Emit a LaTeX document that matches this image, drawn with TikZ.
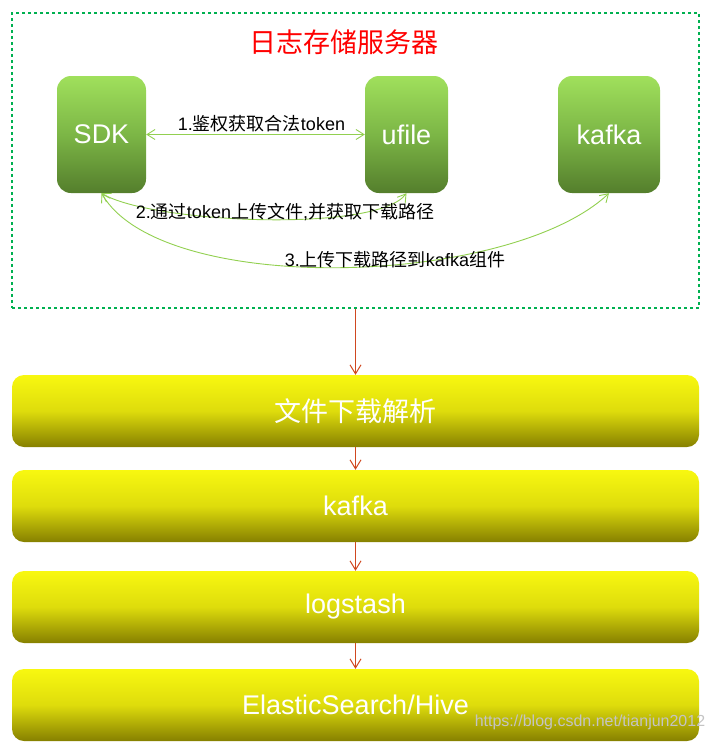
\documentclass[tikz,border=0pt]{standalone}
\usepackage{fontspec}
\setmainfont{Liberation Sans}
\newfontfamily\cjk{Noto Sans CJK SC}
\usetikzlibrary{arrows.meta}
\definecolor{dotgreen}{RGB}{0,176,80}
\definecolor{arrowred}{RGB}{208,72,32}
\definecolor{linkgreen}{RGB}{146,208,80}
\definecolor{boxtop}{RGB}{160,224,92}
\definecolor{boxmid}{RGB}{124,182,70}
\definecolor{boxbot}{RGB}{84,126,44}
\definecolor{bartop}{RGB}{248,248,16}
\definecolor{barmid}{RGB}{222,220,12}
\definecolor{barbot}{RGB}{134,128,0}
\definecolor{marktext}{RGB}{196,196,196}
\newcommand{\bigfont}{\fontsize{27}{27}\selectfont}
\newcommand{\lblfont}{\fontsize{18}{18}\selectfont}
\newcommand{\markfont}{\fontsize{16}{16}\selectfont}

\begin{document}
\begin{tikzpicture}[x=1pt,y=-1pt]
\tikzstyle{srvbox}=[draw=dotgreen,line width=2.7pt,dash pattern=on 2.7pt off 3.3pt,minimum width=687pt,minimum height=295pt,inner sep=0pt]
\tikzstyle{comp}=[rounded corners=14pt,top color=boxtop,bottom color=boxbot,middle color=boxmid,minimum height=117pt,inner sep=0pt,text=white,font=\bigfont]
\tikzstyle{stage}=[rounded corners=12pt,top color=bartop,bottom color=barbot,middle color=barmid,minimum width=687pt,minimum height=72pt,inner sep=0pt,text=white,font=\bigfont]
\tikzstyle{link}=[draw=linkgreen,line width=0.9pt,arrows={Straight Barb[length=8pt,width=10pt]-Straight Barb[length=8pt,width=10pt]}]
\tikzstyle{flow}=[draw=arrowred,line width=1pt,arrows={-Straight Barb[length=9pt,width=11pt]}]
\tikzstyle{lbl}=[font=\lblfont,inner sep=0pt]
\useasboundingbox (0,0) rectangle (713,744);

\node[srvbox] (server) at (355.5,160.5) {};
\node[text=red,font=\bigfont\cjk] (title) at (343.5,42.5) {日志存储服务器};

\node[comp,minimum width=89pt] (sdk) at (101.5,134.5) {SDK};
\node[comp,minimum width=83pt] (ufile) at (406.5,134.5) {ufile};
\node[comp,minimum width=102pt] (kafka) at (609,134.5) {kafka};

\draw[link] (sdk.east) -- node[lbl,above=2pt,xshift=6pt] {1.{\cjk 鉴权获取合法}token} (ufile.west);
\draw[link] (sdk.south) .. controls +(50,30) and +(-30,40) .. (ufile.south);
\draw[link] (sdk.south) .. controls +(60,104) and +(-100,94) .. (kafka.south);
\node[lbl] (steptwo) at (285,212) {2.{\cjk 通过}token{\cjk 上传文件},{\cjk 并获取下载路径}};
\node[lbl] (stepthree) at (395,260) {3.{\cjk 上传下载路径到}kafka{\cjk 组件}};

\node[stage,font=\bigfont\cjk] (parse) at (355.5,411) {文件下载解析};
\node[stage] (queue) at (355.5,506) {kafka};
\node[stage] (stash) at (355.5,607) {logstash};
\node[stage] (store) at (355.5,705) {ElasticSearch/Hive};

\draw[flow] (server.south) -- (parse.north);
\draw[flow] (parse.south) -- (queue.north);
\draw[flow] (queue.south) -- (stash.north);
\draw[flow] (stash.south) -- (store.north);

\node[text=marktext,font=\markfont,inner sep=0pt] (mark) at (590,722) {https://blog.csdn.net/tianjun2012};
\end{tikzpicture}
\end{document}
